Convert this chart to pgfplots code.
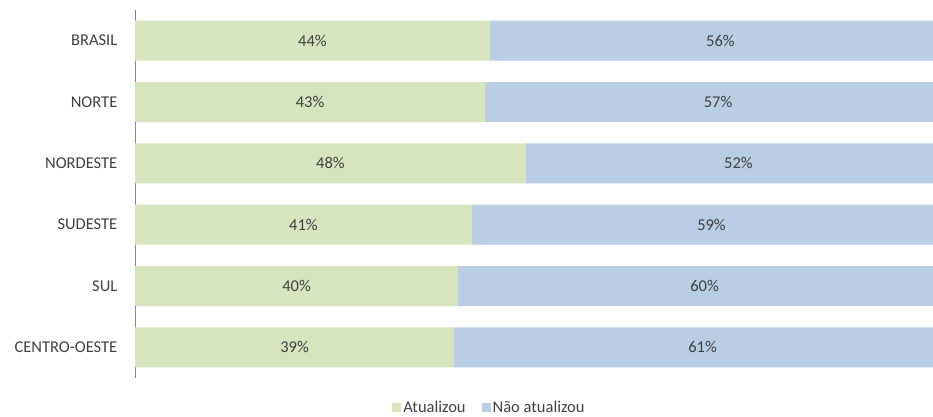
\documentclass[border=0pt]{standalone}
\usepackage{pgfplots}
\pgfplotsset{compat=1.18}
\usepackage{fontspec}
\setmainfont{Carlito}
\definecolor{verde}{HTML}{D7E4BD}
\definecolor{azul}{HTML}{B9CDE5}
\definecolor{texto}{HTML}{404040}
\definecolor{eixo}{HTML}{868686}
\begin{document}
\fontsize{16.5}{19}\selectfont
\begin{tikzpicture}
\useasboundingbox (0,0) rectangle (933pt,417pt);
\begin{axis}[
  at={(135pt,39pt)}, anchor=south west,
  scale only axis, width=816pt, height=368pt,
  xbar stacked, bar width=40pt,
  xmin=0, xmax=100, ymin=-0.5, ymax=5.5, y dir=reverse,
  ytick={0,...,5},
  yticklabels={BRASIL,NORTE,NORDESTE,SUDESTE,SUL,CENTRO-OESTE},
  yticklabel style={text=texto, xshift=-12pt},
  major tick length=0pt,
  xtick=\empty,
  axis x line=none,
  axis y line*=left,
  y axis line style={draw=eixo, -},
  legend style={at={(0.4344,-0.0815)}, anchor=center, draw=none, fill=none,
    text=texto, legend columns=2,
    /tikz/every even column/.append style={column sep=14pt}},
  legend image code/.code={\fill[#1] (0pt,-4.5pt) rectangle (9pt,4.5pt);},
  nodes near coords,
  point meta=explicit symbolic,
  every node near coord/.style={anchor=center, text=texto},
]
\addplot[fill=verde, draw=none] coordinates {
  (43.5,0) [44\%]
  (42.9,1) [43\%]
  (47.9,2) [48\%]
  (41.3,3) [41\%]
  (39.6,4) [40\%]
  (39.1,5) [39\%]
};
\addplot[fill=azul, draw=none] coordinates {
  (56.5,0) [56\%]
  (57.1,1) [57\%]
  (52.1,2) [52\%]
  (58.7,3) [59\%]
  (60.4,4) [60\%]
  (60.9,5) [61\%]
};
\legend{Atualizou, Não atualizou}
\end{axis}
\end{tikzpicture}
\end{document}
